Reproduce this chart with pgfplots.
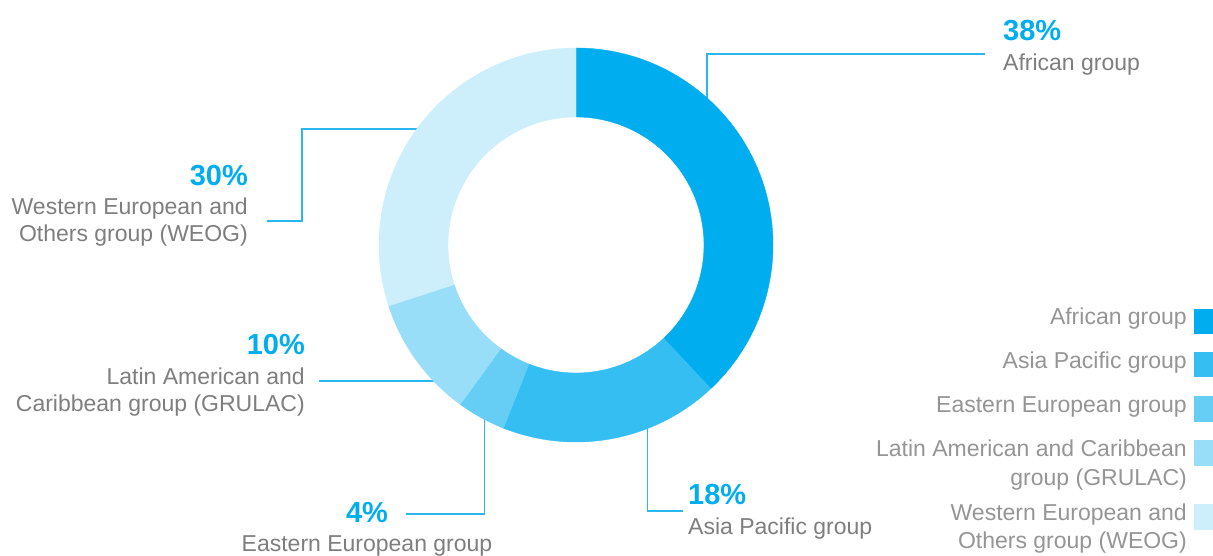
\documentclass[border=0pt]{standalone}
\usepackage{pgfplots}
\pgfplotsset{compat=1.18}
\usepackage{pgfplotstable}
\usepackage{fontspec}
\setmainfont{Liberation Sans}
\definecolor{ring1}{HTML}{00AEEF}
\definecolor{ring2}{HTML}{35BEF2}
\definecolor{ring3}{HTML}{66CEF5}
\definecolor{ring4}{HTML}{99DEF8}
\definecolor{ring5}{HTML}{CCEFFB}
\definecolor{lc}{HTML}{2AB6EE}
\definecolor{pc}{HTML}{00AEEF}
\definecolor{tc}{HTML}{7E7E7E}
\definecolor{lg}{HTML}{959595}
\newcommand\lbl{\fontsize{23}{27}\selectfont}
\newcommand\pct{\fontsize{29}{34}\selectfont\bfseries}

% name, cumulative start (%), share (%), colour index, ring centre
\pgfplotstableread{
name start value idx cx cy
African 0 38 1 576 311
Asia 38 18 2 576 311
Eastern 56 4 3 576 311
Latin 60 10 4 576 311
WEOG 70 30 5 576 311
}\ringdata

\begin{document}
\begin{tikzpicture}
\begin{axis}[x=1pt, y=1pt, xmin=0, xmax=1213, ymin=0, ymax=556,
  hide axis, scale only axis, clip=false]
\coordinate (BL) at (axis cs:0,0);
\coordinate (TR) at (axis cs:1213,556);
% leader lines
\addplot[lc, line width=1.5pt, mark=none] coordinates {(707,440) (707,502) (985,502)};
\addplot[lc, line width=1.5pt, mark=none] coordinates {(440,427) (302,427) (302,335) (267,335)};
\addplot[lc, line width=1.5pt, mark=none] coordinates {(460,175) (319,175)};
\addplot[lc, line width=1.5pt, mark=none] coordinates {(484.5,156) (484.5,42) (406,42)};
\addplot[lc, line width=1.5pt, mark=none] coordinates {(647.3,156) (647.3,45) (683,45)};
% ring
\addplot[scatter, only marks, mark=text, text mark={},
  point meta=\thisrow{value},
  visualization depends on={\thisrow{start} \as \st},
  visualization depends on={\thisrow{value} \as \val},
  visualization depends on={\thisrow{idx} \as \idx},
  scatter/@pre marker code/.code={%
    \pgfmathsetmacro\aS{90-3.6*\st}%
    \pgfmathsetmacro\aE{90-3.6*(\st+\val)}%
    \pgfmathtruncatemacro\ci{\idx}%
    \fill[ring\ci] (\aS:197pt) arc[start angle=\aS, end angle=\aE, radius=197pt]
      -- (\aE:128pt) arc[start angle=\aE, end angle=\aS, radius=128pt] -- cycle;
  },
  scatter/@post marker code/.code={}
] table[x=cx, y=cy]{\ringdata};
% labels
\node[anchor=base west, inner sep=0, text=pc] at (axis cs:1003,515) {\pct 38\%};
\node[anchor=base west, inner sep=0, text=tc] at (axis cs:1003,485) {\lbl African group};
\node[anchor=base east, inner sep=0, text=pc] at (axis cs:248,370) {\pct 30\%};
\node[anchor=base east, inner sep=0, text=tc] at (axis cs:248,341) {\lbl Western European and};
\node[anchor=base east, inner sep=0, text=tc] at (axis cs:248,314) {\lbl Others group (WEOG)};
\node[anchor=base east, inner sep=0, text=pc] at (axis cs:305,201) {\pct 10\%};
\node[anchor=base east, inner sep=0, text=tc] at (axis cs:305,171) {\lbl Latin American and};
\node[anchor=base east, inner sep=0, text=tc] at (axis cs:305,144) {\lbl Caribbean group (GRULAC)};
\node[anchor=base, inner sep=0, text=pc] at (axis cs:367,33) {\pct 4\%};
\node[anchor=base, inner sep=0, text=tc] at (axis cs:367,4) {\lbl Eastern European group};
\node[anchor=base west, inner sep=0, text=pc] at (axis cs:688,51) {\pct 18\%};
\node[anchor=base west, inner sep=0, text=tc] at (axis cs:688,21) {\lbl Asia Pacific group};
% legend
\fill[ring1] (axis cs:1194,222) rectangle (axis cs:1213,247);
\fill[ring2] (axis cs:1194,179) rectangle (axis cs:1213,204);
\fill[ring3] (axis cs:1194,134) rectangle (axis cs:1213,160);
\fill[ring4] (axis cs:1194,90) rectangle (axis cs:1213,116);
\fill[ring5] (axis cs:1194,26) rectangle (axis cs:1213,52);
\node[anchor=base east, inner sep=0, text=lg] at (axis cs:1187,231) {\lbl African group};
\node[anchor=base east, inner sep=0, text=lg] at (axis cs:1187,187) {\lbl Asia Pacific group};
\node[anchor=base east, inner sep=0, text=lg] at (axis cs:1187,143) {\lbl Eastern European group};
\node[anchor=base east, inner sep=0, text=lg] at (axis cs:1187,99) {\lbl Latin American and Caribbean};
\node[anchor=base east, inner sep=0, text=lg] at (axis cs:1187,70) {\lbl group (GRULAC)};
\node[anchor=base east, inner sep=0, text=lg] at (axis cs:1187,35) {\lbl Western European and};
\node[anchor=base east, inner sep=0, text=lg] at (axis cs:1187,7) {\lbl Others group (WEOG)};
\end{axis}
\pgfresetboundingbox
\useasboundingbox (BL) rectangle (TR);
\end{tikzpicture}
\end{document}
